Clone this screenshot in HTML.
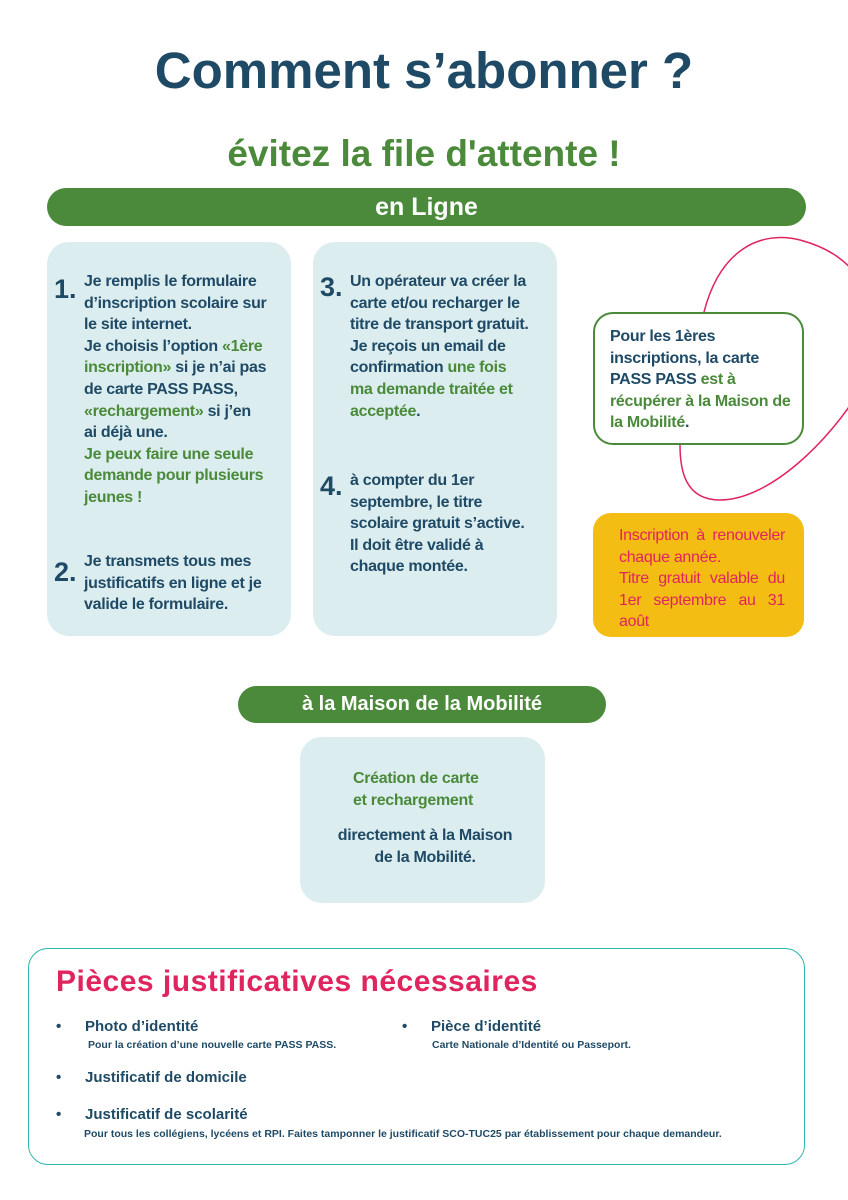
<!DOCTYPE html><html><head><meta charset="utf-8"><style>
*{margin:0;padding:0;box-sizing:border-box}
body{width:848px;height:1200px;background:#fff;position:relative;font-family:"Liberation Sans",sans-serif;font-weight:bold;color:#1f4a66;overflow:hidden}
.a{position:absolute}
.g{color:#4a8a3a}
.box{position:absolute;background:#dcedef;border-radius:22px}
.t{position:absolute;font-size:16px;line-height:21.6px;letter-spacing:-0.3px}
.n{position:absolute;font-size:27px}
.bar{position:absolute;background:#4a8a3a;color:#fff;border-radius:20px;text-align:center}
.b{position:absolute;font-size:15px}
.s{position:absolute;font-size:10.5px}
</style></head><body>
<div class="a" style="left:0;width:848px;top:41px;text-align:center;font-size:51px;letter-spacing:0px">Comment s’abonner ?</div>
<div class="a g" style="left:0;width:848px;top:133px;text-align:center;font-size:37px">évitez la file d'attente !</div>
<div class="bar" style="left:47px;top:188px;width:759px;height:38px;font-size:25px;line-height:38px">en Ligne</div>
<div class="box" style="left:47px;top:242px;width:244px;height:394px"></div>
<div class="box" style="left:313px;top:242px;width:244px;height:394px"></div>
<div class="n" style="left:54px;top:274px">1.</div>
<div class="t" style="left:84px;top:271px">Je remplis le formulaire<br>d’inscription scolaire sur<br>le site internet.<br>Je choisis l’option <span class="g">«1ère<br>inscription»</span> si je n’ai pas<br>de carte PASS PASS,<br><span class="g">«rechargement»</span> si j’en<br>ai déjà une.<br><span class="g">Je peux faire une seule<br>demande pour plusieurs<br>jeunes !</span></div>
<div class="n" style="left:54px;top:557px">2.</div>
<div class="t" style="left:84px;top:551px">Je transmets tous mes<br>justificatifs en ligne et je<br>valide le formulaire.</div>
<div class="n" style="left:320px;top:272px">3.</div>
<div class="t" style="left:350px;top:271px">Un opérateur va créer la<br>carte et/ou recharger le<br>titre de transport gratuit.<br>Je reçois un email de<br>confirmation <span class="g">une fois<br>ma demande traitée et<br>acceptée</span>.</div>
<div class="n" style="left:320px;top:471px">4.</div>
<div class="t" style="left:350px;top:470px">à compter du 1er<br>septembre, le titre<br>scolaire gratuit s’active.<br>Il doit être validé à<br>chaque montée.</div>
<svg class="a" style="left:0;top:0" width="848" height="1200"><path d="M704 312 C720 250 760 230 800 240 C830 248 848 262 860 280 M860 390 C830 440 770 500 720 500 C685 500 680 470 680 445" fill="none" stroke="#e0245e" stroke-width="1.5"/></svg>
<div class="a" style="left:593px;top:312px;width:211px;height:133px;border:2px solid #4a8a3a;border-radius:20px;background:#fff"></div>
<div class="t" style="left:610px;top:326px">Pour les 1ères<br>inscriptions, la carte<br>PASS PASS <span class="g">est à<br>récupérer à la Maison de<br>la Mobilité</span>.</div>
<div class="a" style="left:593px;top:513px;width:211px;height:124px;background:#f4bd14;border-radius:18px"></div>
<div class="t" style="left:619px;top:525px;color:#e0245e;font-weight:normal;width:166px;text-align:justify">Inscription à renouveler chaque année.<br>Titre gratuit valable du 1er septembre au 31 août</div>
<div class="bar" style="left:238px;top:686px;width:368px;height:37px;font-size:20px;line-height:37px">à la Maison de la Mobilité</div>
<div class="box" style="left:300px;top:737px;width:245px;height:166px"></div>
<div class="t g" style="left:353px;top:768px">Création de carte<br>et rechargement</div>
<div class="t" style="left:300px;width:250px;top:825px;text-align:center">directement à la Maison<br>de la Mobilité.</div>
<div class="a" style="left:28px;top:948px;width:777px;height:217px;border:1.5px solid #2bb5b0;border-radius:20px"></div>
<div class="a" style="left:56px;top:965px;font-size:30px;color:#e0245e;letter-spacing:0.5px">Pièces justificatives nécessaires</div>
<div class="b" style="left:56px;top:1018px">•</div><div class="b" style="left:85px;top:1018px">Photo d’identité</div>
<div class="s" style="left:88px;top:1039px">Pour la création d’une nouvelle carte PASS PASS.</div>
<div class="b" style="left:402px;top:1018px">•</div><div class="b" style="left:431px;top:1018px">Pièce d’identité</div>
<div class="s" style="left:432px;top:1039px">Carte Nationale d’Identité ou Passeport.</div>
<div class="b" style="left:56px;top:1069px">•</div><div class="b" style="left:85px;top:1069px">Justificatif de domicile</div>
<div class="b" style="left:56px;top:1106px">•</div><div class="b" style="left:85px;top:1106px">Justificatif de scolarité</div>
<div class="s" style="left:84px;top:1128px">Pour tous les collégiens, lycéens et RPI. Faites tamponner le justificatif SCO-TUC25 par établissement pour chaque demandeur.</div>
</body></html>
